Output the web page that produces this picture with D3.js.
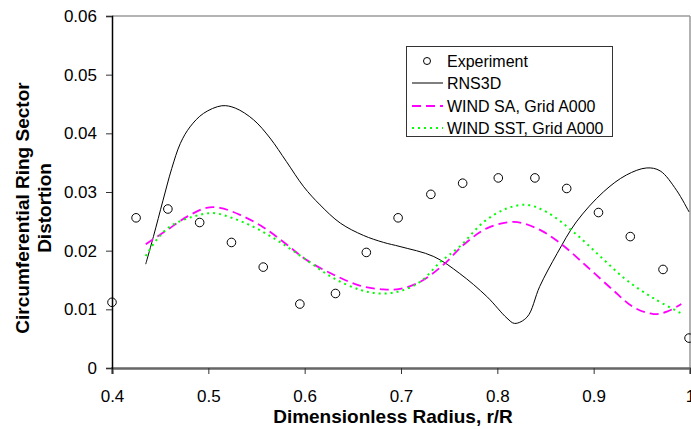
<!DOCTYPE html>
<html lang="en">
<head>
  <meta charset="UTF-8" />
  <title>Circumferential Ring Sector Distortion</title>
  <style>
    body { margin: 0; background: #fff; }
    svg { display: block; font-family: Arial, "Liberation Sans", sans-serif; }
  </style>
</head>
<body>
  <div id="chart"></div>

  <script src="https://d3js.org/d3.v7.min.js"></script>
  <script>
    // experiment points
    const expX = [0.400, 0.425, 0.458, 0.491, 0.524, 0.557, 0.595, 0.632, 0.664, 0.697,
                  0.731, 0.764, 0.801, 0.839, 0.872, 0.905, 0.938, 0.972, 0.999];
    const expY = [0.0112, 0.0256, 0.0271, 0.0248, 0.0214, 0.0172, 0.0109, 0.0127, 0.0197, 0.0256,
                  0.0296, 0.0315, 0.0324, 0.0324, 0.0306, 0.0265, 0.0224, 0.0168, 0.0051];

    // RNS3D
    const rnsX = [0.435, 0.443, 0.453, 0.462, 0.471, 0.481, 0.495, 0.514, 0.528, 0.547, 0.564,
                  0.581, 0.599, 0.616, 0.637, 0.661, 0.682, 0.699, 0.734, 0.761, 0.789, 0.810,
                  0.818, 0.831, 0.844, 0.862, 0.882, 0.910, 0.934, 0.955, 0.969, 0.986, 0.999];
    const rnsY = [0.0177, 0.0224, 0.0286, 0.0340, 0.0383, 0.0411, 0.0434, 0.0447, 0.0443, 0.0423, 0.0392,
                  0.0352, 0.0309, 0.0278, 0.0247, 0.0226, 0.0214, 0.0207, 0.0190, 0.0161, 0.0122, 0.0085,
                  0.0076, 0.0087, 0.0139, 0.0195, 0.0249, 0.0300, 0.0329, 0.0341, 0.0336, 0.0303, 0.0266];

    // WIND SA, Grid A000
    const saX = [0.435, 0.457, 0.478, 0.498, 0.512, 0.533, 0.557, 0.581, 0.602, 0.630, 0.658, 0.682,
                 0.699, 0.720, 0.744, 0.765, 0.789, 0.817, 0.841, 0.865, 0.893, 0.920, 0.941, 0.962,
                 0.976, 0.991];
    const saY = [0.0211, 0.0235, 0.0258, 0.0273, 0.0273, 0.0261, 0.0240, 0.0211, 0.0184, 0.0159, 0.0140, 0.0134,
                 0.0135, 0.0147, 0.0176, 0.0210, 0.0238, 0.0249, 0.0238, 0.0213, 0.0173, 0.0133, 0.0104, 0.0092,
                 0.0096, 0.0109];

    // WIND SST, Grid A000
    const sstX = [0.435, 0.446, 0.460, 0.484, 0.505, 0.526, 0.550, 0.574, 0.602, 0.630, 0.658, 0.678,
                  0.699, 0.720, 0.741, 0.761, 0.786, 0.810, 0.831, 0.851, 0.879, 0.907, 0.934, 0.962,
                  0.991];
    const sstY = [0.0191, 0.0218, 0.0241, 0.0258, 0.0264, 0.0255, 0.0238, 0.0215, 0.0184, 0.0153, 0.0133, 0.0127,
                  0.0131, 0.0147, 0.0181, 0.0207, 0.0249, 0.0272, 0.0278, 0.0266, 0.0232, 0.0190, 0.0150, 0.0119,
                  0.0093];

    const xTicks = [0.4, 0.5, 0.6, 0.7, 0.8, 0.9, 1];
    const yTicks = [0, 0.01, 0.02, 0.03, 0.04, 0.05, 0.06];
    const legendLabels = ["Experiment", "RNS3D", "WIND SA, Grid A000", "WIND SST, Grid A000"];

    const width = 691, height = 429;
    const plotL = 112, plotR = 690, plotT = 16, plotB = 368;

    const x = d3.scaleLinear().domain([0.4, 1]).range([plotL, plotR]);
    const y = d3.scaleLinear().domain([0, 0.06]).range([plotB, plotT]);

    const svg = d3.select("#chart").append("svg")
      .attr("width", width).attr("height", height);

    // plot frame (top + right)
    svg.append("line").attr("x1", plotL).attr("x2", plotR).attr("y1", plotT).attr("y2", plotT)
      .attr("stroke", "#b4b4b4").attr("stroke-width", 2);
    svg.append("line").attr("x1", plotR).attr("x2", plotR).attr("y1", plotT).attr("y2", plotB)
      .attr("stroke", "#999").attr("stroke-width", 1.5);

    // x axis
    const xAxis = svg.append("g")
      .attr("transform", `translate(0,${plotB})`)
      .call(d3.axisBottom(x).tickValues(xTicks).tickSize(6).tickPadding(16)
        .tickFormat(d => d === 1 ? "1" : d3.format(".1f")(d)));
    xAxis.select(".domain").attr("stroke", "#666").attr("stroke-width", 2.5);
    xAxis.selectAll(".tick line").attr("stroke", "#333");
    xAxis.selectAll("text").attr("font-size", 17).attr("fill", "#000")
      .attr("font-family", "Arial, 'Liberation Sans', sans-serif");

    // y axis
    const yAxis = svg.append("g")
      .attr("transform", `translate(${plotL},0)`)
      .call(d3.axisLeft(y).tickValues(yTicks).tickSize(6).tickPadding(9)
        .tickFormat(d => d === 0 ? "0" : d3.format(".2f")(d)));
    yAxis.select(".domain").attr("stroke", "#000").attr("stroke-width", 1.5);
    yAxis.selectAll(".tick line").attr("stroke", "#333");
    yAxis.selectAll("text").attr("font-size", 17).attr("fill", "#000")
      .attr("font-family", "Arial, 'Liberation Sans', sans-serif");

    // axis titles
    svg.append("text")
      .attr("x", 393).attr("y", 423)
      .attr("text-anchor", "middle")
      .attr("font-size", 19).attr("font-weight", "bold")
      .text("Dimensionless Radius, r/R");

    const yTitle = svg.append("text")
      .attr("transform", "translate(0,208) rotate(-90)")
      .attr("text-anchor", "middle")
      .attr("font-size", 19).attr("font-weight", "bold");
    yTitle.append("tspan").attr("x", 0).attr("y", 29).text("Circumferential Ring Sector");
    yTitle.append("tspan").attr("x", 0).attr("y", 51).text("Distortion");

    // curves
    const line = d3.line()
      .x(d => x(d[0])).y(d => y(d[1]))
      .curve(d3.curveCatmullRom.alpha(0.5));

    const zip = (xs, ys) => xs.map((v, i) => [v, ys[i]]);

    svg.append("path").datum(zip(rnsX, rnsY))
      .attr("d", line).attr("fill", "none")
      .attr("stroke", "#000").attr("stroke-width", 1);

    svg.append("path").datum(zip(saX, saY))
      .attr("d", line).attr("fill", "none")
      .attr("stroke", "#ff00ff").attr("stroke-width", 1.8)
      .attr("stroke-dasharray", "9,5");

    svg.append("path").datum(zip(sstX, sstY))
      .attr("d", line).attr("fill", "none")
      .attr("stroke", "#00ff00").attr("stroke-width", 2)
      .attr("stroke-dasharray", "2,4");

    // experiment markers
    svg.append("g").selectAll("circle")
      .data(zip(expX, expY))
      .enter()
      .append("circle")
      .attr("cx", d => x(d[0])).attr("cy", d => y(d[1]))
      .attr("r", 4.3)
      .attr("fill", "none").attr("stroke", "#000").attr("stroke-width", 1);

    // legend
    const lg = svg.append("g");
    lg.append("rect")
      .attr("x", 406.5).attr("y", 46.5).attr("width", 206).attr("height", 90)
      .attr("fill", "#fff").attr("stroke", "#333").attr("stroke-width", 1);

    const rowY = [61, 83, 106, 128];
    const items = lg.selectAll("g.item")
      .data(legendLabels)
      .enter()
      .append("g").attr("class", "item")
      .attr("transform", (d, i) => `translate(0,${rowY[i]})`);

    items.append("text")
      .attr("x", 447).attr("y", 0).attr("dy", "0.35em")
      .attr("font-size", 16)
      .text(d => d);

    items.filter((d, i) => i === 0).append("circle")
      .attr("cx", 427).attr("cy", 0).attr("r", 3.5)
      .attr("fill", "none").attr("stroke", "#000");

    const legendStyles = [
      null,
      { stroke: "#000", width: 1, dash: null },
      { stroke: "#ff00ff", width: 1.8, dash: "9,5" },
      { stroke: "#00ff00", width: 2, dash: "2,4" }
    ];
    items.filter((d, i) => i > 0).append("line")
      .attr("x1", 412).attr("x2", 443).attr("y1", 0).attr("y2", 0)
      .each(function (d) {
        const s = legendStyles[legendLabels.indexOf(d)];
        d3.select(this).attr("stroke", s.stroke).attr("stroke-width", s.width)
          .attr("stroke-dasharray", s.dash);
      });
  </script>
</body>
</html>
